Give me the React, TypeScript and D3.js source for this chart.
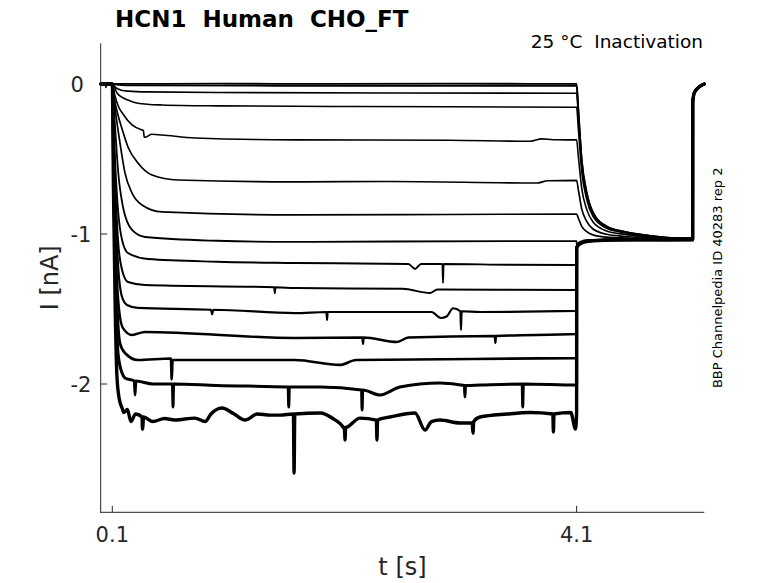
import React from 'react';
import * as d3 from 'd3';

const W = 778;
const H = 583;

const xDomain: [number, number] = [0, 5.2];
const yDomain: [number, number] = [-2.855, 0.271];
const xTicks = [0.1, 4.1];
const xTickLabels = ['0.1', '4.1'];
const yTicks = [-2, -1, 0];
const yTickLabels = ['-2', '-1', '0'];

const titleText = 'HCN1  Human  CHO_FT';
const conditionText = '25 °C  Inactivation';
const sideText = 'BBP Channelpedia ID 40283 rep 2';
const xLabel = 't [s]';
const yLabel = 'I [nA]';

type P = [number, number];

// prepulse part of each sweep (t in s, I in nA)
const prepulseTraces: P[][] = [
  [[0, 0], [0.04, 0.004], [0.045, -0.022], [0.05, 0.003], [0.1, 0], [1.0, 0.002], [2.0, 0], [3.0, 0.002], [4.1, 0]],
  [[0, 0], [0.1, 0], [0.15, -0.006], [0.3, -0.01], [1.5, -0.012], [4.1, -0.012]],
  [[0, 0], [0.1, 0], [0.13, -0.025], [0.18, -0.042], [0.24, -0.048], [0.4, -0.053], [1.0, -0.057], [2.5, -0.06], [4.1, -0.062]],
  [[0, 0], [0.1, 0], [0.14, -0.06], [0.2, -0.095], [0.235, -0.107], [0.3, -0.125], [0.4, -0.135], [0.53, -0.14], [1.0, -0.146], [2.0, -0.15], [3.0, -0.152], [4.1, -0.155]],
  [[0, 0], [0.1, 0], [0.12, -0.07], [0.15, -0.145], [0.192, -0.2], [0.27, -0.273], [0.356, -0.307], [0.368, -0.31], [0.375, -0.355], [0.4, -0.35], [0.44, -0.335], [0.528, -0.34], [0.812, -0.36], [1.674, -0.373], [3.0, -0.375], [3.7, -0.382], [3.8, -0.366], [3.9, -0.372], [4.1, -0.373]],
  [[0, 0], [0.1, 0], [0.12, -0.11], [0.15, -0.21], [0.184, -0.3], [0.235, -0.42], [0.321, -0.527], [0.442, -0.607], [0.666, -0.64], [1.674, -0.653], [2.5, -0.65], [3.76, -0.66], [3.85, -0.645], [4.1, -0.642]],
  [[0, 0], [0.1, 0], [0.13, -0.2], [0.166, -0.393], [0.209, -0.593], [0.27, -0.727], [0.356, -0.807], [0.528, -0.853], [1.674, -0.873], [3.0, -0.87], [4.1, -0.867]],
  [[0, 0], [0.1, 0], [0.125, -0.3], [0.149, -0.573], [0.192, -0.82], [0.27, -0.973], [0.382, -1.02], [1.0, -1.045], [1.674, -1.053], [2.5, -1.05], [4.1, -1.047]],
  [[0, 0], [0.1, 0], [0.12, -0.45], [0.149, -0.84], [0.184, -1.04], [0.235, -1.127], [0.408, -1.167], [1.0, -1.185], [1.674, -1.193], [2.65, -1.2], [2.708, -1.233], [2.76, -1.2], [2.944, -1.2], [2.949, -1.327], [2.954, -1.2], [3.5, -1.205], [4.1, -1.207]],
  [[0, 0], [0.1, 0], [0.12, -0.55], [0.149, -1.04], [0.184, -1.24], [0.235, -1.32], [0.382, -1.34], [1.495, -1.355], [1.5, -1.395], [1.505, -1.355], [1.674, -1.36], [2.6, -1.365], [2.837, -1.393], [2.9, -1.37], [4.1, -1.373]],
  [[0, 0], [0.1, 0], [0.12, -0.65], [0.149, -1.2], [0.184, -1.42], [0.227, -1.473], [0.321, -1.493], [0.95, -1.505], [0.96, -1.535], [0.97, -1.505], [1.674, -1.527], [1.945, -1.52], [1.95, -1.573], [1.955, -1.52], [2.85, -1.52], [2.93, -1.56], [2.98, -1.55], [3.035, -1.495], [3.099, -1.515], [3.104, -1.64], [3.109, -1.515], [3.27, -1.52], [4.1, -1.513]],
  [[0, 0], [0.1, 0], [0.115, -0.7], [0.14, -1.3], [0.166, -1.553], [0.192, -1.627], [0.27, -1.673], [0.382, -1.653], [1.674, -1.693], [2.255, -1.69], [2.26, -1.733], [2.265, -1.69], [2.553, -1.72], [2.65, -1.69], [3.395, -1.68], [3.4, -1.727], [3.405, -1.68], [4.1, -1.667]],
  [[0, 0], [0.1, 0], [0.115, -0.8], [0.14, -1.45], [0.166, -1.727], [0.209, -1.793], [0.321, -1.84], [0.605, -1.83], [0.612, -1.97], [0.619, -1.84], [1.674, -1.84], [2.06, -1.873], [2.2, -1.84], [4.1, -1.827]],
  [[0, 0], [0.1, 0], [0.112, -0.6], [0.13, -1.4], [0.15, -1.8], [0.184, -1.927], [0.209, -1.96], [0.29, -1.98], [0.296, -2.073], [0.302, -1.98], [0.45, -2.0], [0.618, -2.0], [0.623, -2.153], [0.628, -2.0], [1.0, -2.01], [1.615, -2.02], [1.62, -2.153], [1.625, -2.02], [1.89, -2.02], [2.247, -2.04], [2.252, -2.173], [2.257, -2.04], [2.406, -2.073], [2.578, -2.02], [2.923, -1.993], [3.133, -2.01], [3.138, -2.087], [3.143, -2.01], [3.268, -2.007], [3.631, -2.0], [3.636, -2.153], [3.641, -2.0], [4.1, -2.007]],
  [[0, 0], [0.1, 0], [0.11, -0.7], [0.125, -1.5], [0.14, -1.95], [0.16, -2.1], [0.184, -2.16], [0.2, -2.19], [0.23, -2.17], [0.26, -2.25], [0.3, -2.2], [0.356, -2.22], [0.36, -2.3], [0.37, -2.22], [0.45, -2.25], [0.55, -2.23], [0.64, -2.24], [0.812, -2.227], [0.9, -2.25], [0.95, -2.2], [1.045, -2.16], [1.15, -2.2], [1.243, -2.24], [1.35, -2.2], [1.458, -2.207], [1.545, -2.207], [1.66, -2.2], [1.666, -2.593], [1.672, -2.2], [1.89, -2.193], [2.0, -2.23], [2.1, -2.3], [2.105, -2.373], [2.11, -2.29], [2.122, -2.287], [2.234, -2.227], [2.375, -2.24], [2.38, -2.373], [2.385, -2.24], [2.492, -2.22], [2.708, -2.193], [2.794, -2.307], [2.85, -2.25], [2.923, -2.24], [3.095, -2.26], [3.2, -2.26], [3.207, -2.327], [3.214, -2.25], [3.268, -2.22], [3.5, -2.2], [3.7, -2.19], [3.895, -2.2], [3.9, -2.32], [3.905, -2.2], [4.05, -2.19], [4.09, -2.3], [4.1, -2.193]],
];

// test pulse part (4.1 s .. 5.1 s)
const testTraces: P[][] = [
  [[4.1, 0], [4.115, -0.172], [4.144, -0.505], [4.187, -0.723], [4.241, -0.856], [4.359, -0.949], [4.497, -0.982], [4.644, -1.002], [5.1, -1.03]],
  [[4.1, -0.012], [4.115, -0.18], [4.144, -0.51], [4.187, -0.727], [4.241, -0.858], [4.359, -0.95], [4.497, -0.983], [4.644, -1.003], [5.1, -1.04]],
  [[4.1, -0.062], [4.115, -0.222], [4.144, -0.536], [4.187, -0.742], [4.241, -0.866], [4.359, -0.954], [4.497, -0.985], [4.644, -1.004], [5.1, -1.035]],
  [[4.1, -0.155], [4.115, -0.3], [4.144, -0.583], [4.187, -0.77], [4.241, -0.882], [4.359, -0.962], [4.497, -0.99], [4.644, -1.007], [5.1, -1.028]],
  [[4.1, -0.373], [4.115, -0.483], [4.144, -0.696], [4.187, -0.836], [4.241, -0.92], [4.359, -0.98], [4.497, -1.001], [4.644, -1.014], [5.1, -1.042]],
  [[4.1, -0.642], [4.115, -0.706], [4.144, -0.833], [4.187, -0.916], [4.241, -0.967], [4.359, -1.002], [4.497, -1.015], [4.644, -1.022], [5.1, -1.032]],
  [[4.1, -0.867], [4.115, -0.895], [4.144, -0.949], [4.187, -0.984], [4.241, -1.006], [4.359, -1.021], [4.497, -1.026], [4.644, -1.03], [5.1, -1.038]],
  [[4.1, -1.047], [4.1008, -1.07], [4.13, -1.052], [4.2, -1.04], [5.1, -1.035]],
  [[4.1, -1.207], [4.1008, -1.08], [4.13, -1.058], [4.2, -1.045], [4.4, -1.038], [5.1, -1.03]],
  [[4.1, -1.373], [4.1008, -1.082], [4.13, -1.06], [4.2, -1.045], [4.4, -1.038], [5.1, -1.044]],
  [[4.1, -1.513], [4.1008, -1.085], [4.13, -1.06], [4.2, -1.046], [4.4, -1.038], [5.1, -1.033]],
  [[4.1, -1.667], [4.1008, -1.086], [4.13, -1.062], [4.2, -1.046], [4.4, -1.039], [5.1, -1.041]],
  [[4.1, -1.827], [4.1008, -1.088], [4.13, -1.062], [4.2, -1.047], [4.4, -1.039], [5.1, -1.029]],
  [[4.1, -2.007], [4.1008, -1.09], [4.13, -1.064], [4.2, -1.047], [4.4, -1.04], [5.1, -1.037]],
  [[4.1, -2.193], [4.1008, -1.092], [4.13, -1.065], [4.2, -1.048], [4.4, -1.04], [5.1, -1.034]],
];

// return to holding potential (shared by every sweep)
const tailPoints: P[] = [[5.1008, -0.12], [5.105, -0.09], [5.113, -0.06], [5.142, -0.029], [5.185, -0.005], [5.2, 0]];

// line widths grow with the recording noise of the sweep
const traceWidths = [1.8, 1.8, 1.6, 1.6, 1.6, 1.7, 1.7, 1.8, 1.9, 2.0, 2.2, 2.4, 2.7, 3.0, 3.4];

const FONT = '"DejaVu Sans", Verdana, sans-serif';
const AX = '#262626';

export default function App() {
  const x = d3.scaleLinear().domain(xDomain).range([100.7, 704.3]);
  const y = d3.scaleLinear().domain(yDomain).range([512.3, 43.3]);
  const line = d3
    .line<P>()
    .x((d) => x(d[0]))
    .y((d) => y(d[1]))
    .curve(d3.curveMonotoneX);

  const sweeps = prepulseTraces.map((pre, i) => [...pre, ...testTraces[i].slice(1), ...tailPoints]);

  const x0 = x(xDomain[0]);
  const x1 = x(xDomain[1]);
  const yTop = y(yDomain[1]);
  const yBot = y(yDomain[0]);

  return (
    <svg
      width={W}
      height={H}
      viewBox={`0 0 ${W} ${H}`}
      style={{ position: 'absolute', left: 0, top: 0, display: 'block', background: '#fff' }}
    >
      <rect x={0} y={0} width={W} height={H} fill="#fff" />
      <g fill="none" stroke="#000" strokeLinejoin="round" strokeLinecap="round">
        {sweeps.map((s, i) => (
          <path key={i} d={line(s) || ''} strokeWidth={traceWidths[i]} />
        ))}
      </g>
      {/* axes */}
      <g stroke={AX} strokeWidth={1} fill="none">
        <line x1={x0} y1={yTop} x2={x0} y2={yBot + 0.5} />
        <line x1={x0 - 0.5} y1={yBot} x2={x1} y2={yBot} />
        {xTicks.map((t, i) => (
          <line key={'xt' + i} x1={x(t)} x2={x(t)} y1={yBot} y2={yBot - 6.5} />
        ))}
        {yTicks.map((t, i) => (
          <line key={'yt' + i} x1={x0} x2={x0 + 6.5} y1={y(t)} y2={y(t)} />
        ))}
      </g>
      <g fontFamily={FONT} fill={AX} fontSize={21}>
        {xTicks.map((t, i) => (
          <text key={'xl' + i} x={x(t)} y={542} textAnchor="middle">
            {xTickLabels[i]}
          </text>
        ))}
        {yTicks.map((t, i) => (
          <text key={'yl' + i} x={70.5} y={y(t) + 7.7} textAnchor="start">
            {yTickLabels[i]}
          </text>
        ))}
      </g>
      <text x={(x0 + x1) / 2} y={575} fontFamily={FONT} fontSize={24} fill={AX} textAnchor="middle" style={{ whiteSpace: 'pre' }}>
        {xLabel}
      </text>
      <text
        transform={`translate(58, ${(yTop + yBot) / 2}) rotate(-90)`}
        fontFamily={FONT}
        fontSize={24}
        fill={AX}
        textAnchor="middle"
        style={{ whiteSpace: 'pre' }}
      >
        {yLabel}
      </text>
      <text x={115} y={27} fontFamily={FONT} fontSize={23} fontWeight="bold" fill="#000" style={{ whiteSpace: 'pre' }}>
        {titleText}
      </text>
      <text x={703} y={48} fontFamily={FONT} fontSize={18.5} fill="#000" textAnchor="end" style={{ whiteSpace: 'pre' }}>
        {conditionText}
      </text>
      <text
        transform={`translate(722, ${(yTop + yBot) / 2}) rotate(-90)`}
        fontFamily={FONT}
        fontSize={13}
        fill="#000"
        textAnchor="middle"
      >
        {sideText}
      </text>
    </svg>
  );
}
